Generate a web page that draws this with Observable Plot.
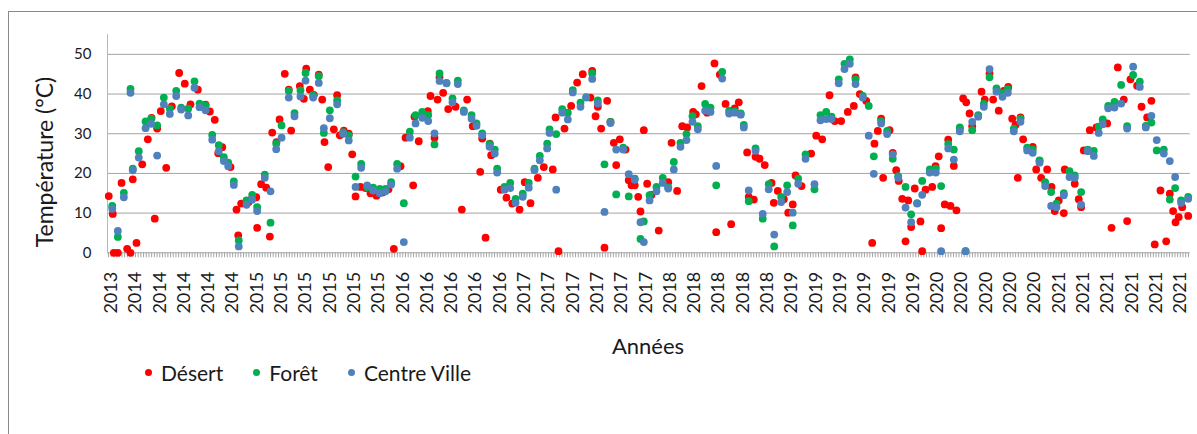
<!DOCTYPE html>
<html>
<head>
<meta charset="utf-8">
<script src="https://cdn.jsdelivr.net/npm/d3@7"></script>
<script src="https://cdn.jsdelivr.net/npm/@observablehq/plot@0.6"></script>
<style>
  body { margin: 0; background: #fff; font-family: Lato, "Open Sans", sans-serif; color: #1a1a1a; }
  #wrap { position: relative; width: 1197px; height: 434px; overflow: hidden; background: #fff; }
  #chart { position: absolute; left: 0; top: 0; }
  #frame { position: absolute; left: 8px; top: 11px; width: 1220px; height: 460px; border: 1.5px solid #8a8a8a; box-sizing: border-box; pointer-events: none; }
  #ytitle { position: absolute; left: 44px; top: 162px; transform: translate(-50%, -50%) rotate(-90deg); white-space: nowrap; font-size: 23px; }
  #xtitle { position: absolute; left: 648px; top: 345px; transform: translate(-50%, -50%); white-space: nowrap; font-size: 22px; }
  #legend { position: absolute; left: 145px; top: 359px; height: 26px; display: flex; align-items: center; font-size: 21px; }
  #legend .item { display: flex; align-items: center; margin-right: 30px; }
  #legend .sw { width: 7px; height: 7px; border-radius: 50%; margin-right: 9px; }
</style>
</head>
<body>
<div id="wrap">
  <div id="chart"></div>
  <div id="ytitle">Température (°C)</div>
  <div id="xtitle">Années</div>
  <div id="legend"></div>
  <div id="frame"></div>
</div>
<script>
// ---- Data ----
const seriesNames = ["Désert", "Forêt", "Centre Ville"];
const seriesColors = ["#ff0000", "#00b050", "#4f81bd"];

const tickLabels = ["2013",
  "2014","2014","2014","2014","2014",
  "2015","2015","2015","2015","2015","2015",
  "2016","2016","2016","2016","2016",
  "2017","2017","2017","2017","2017","2017",
  "2018","2018","2018","2018","2018",
  "2019","2019","2019","2019","2019","2019",
  "2020","2020","2020","2020","2020",
  "2021","2021","2021","2021","2021","2021"];
const yTicks = [0, 10, 20, 30, 40, 50];

// shared sampling dates (decimal years) of Forêt and Centre Ville
const datesForetVille = [
  2013.963, 2014.005, 2014.050, 2014.100, 2014.117, 2014.162, 2014.213, 2014.255, 2014.300, 2014.350,
  2014.395, 2014.443, 2014.480, 2014.533, 2014.580, 2014.618, 2014.663, 2014.713, 2014.762, 2014.800,
  2014.833, 2014.875, 2014.912, 2014.970, 2015.013, 2015.050, 2015.107, 2015.150, 2015.193, 2015.233,
  2015.287, 2015.330, 2015.375, 2015.413, 2015.470, 2015.512, 2015.550, 2015.595, 2015.650, 2015.695,
  2015.737, 2015.788, 2015.830, 2015.875, 2015.920, 2015.970, 2016.013, 2016.055, 2016.100, 2016.150,
  2016.195, 2016.238, 2016.288, 2016.333, 2016.380, 2016.418, 2016.470, 2016.515, 2016.555, 2016.600,
  2016.658, 2016.695, 2016.738, 2016.793, 2016.832, 2016.850, 2016.905, 2016.948, 2016.988, 2017.042,
  2017.087, 2017.130, 2017.170, 2017.225, 2017.243, 2017.293, 2017.338, 2017.380, 2017.417, 2017.475,
  2017.518, 2017.563, 2017.605, 2017.655, 2017.700, 2017.743, 2017.795, 2017.837, 2017.882, 2017.925,
  2017.950, 2017.993, 2018.045, 2018.092, 2018.133, 2018.175, 2018.225, 2018.270, 2018.315, 2018.355,
  2018.410, 2018.450, 2018.493, 2018.538, 2018.590, 2018.632, 2018.677, 2018.700, 2018.737, 2018.788,
  2018.842, 2018.887, 2018.928, 2018.980, 2019.025, 2019.067, 2019.108, 2019.163, 2019.230, 2019.275,
  2019.318, 2019.358, 2019.412, 2019.455, 2019.495, 2019.538, 2019.592, 2019.637, 2019.675, 2019.730,
  2019.775, 2019.817, 2019.858, 2019.913, 2019.955, 2020.000, 2020.038, 2020.095, 2020.140, 2020.180,
  2020.233, 2020.275, 2020.320, 2020.363, 2020.413, 2020.458, 2020.500, 2020.543, 2020.595, 2020.640,
  2020.680, 2020.725, 2020.775, 2020.825, 2020.867, 2020.918, 2020.960, 2021.005, 2021.045, 2021.100,
  2021.143, 2021.182, 2021.230, 2021.280, 2021.325, 2021.362, 2021.392, 2021.433, 2021.480, 2021.530,
  2021.575, 2021.620, 2021.670, 2021.715, 2021.757, 2021.797, 2021.850, 2021.895, 2021.935, 2021.980,
  2022.033];

const centreVille = [
  11.1, 5.5, 14.0, 40.3, 20.8, 24.0, 31.4, 32.5, 24.5, 37.4,
  35.0, 39.5, 36.1, 34.6, 41.6, 36.7, 35.9, 28.5, 25.6, 23.1,
  21.8, 17.1, 1.6, 12.1, 13.4, 10.5, 18.9, 15.5, 26.1, 29.0,
  39.1, 34.4, 39.4, 43.4, 39.1, 42.8, 31.4, 33.9, 37.4, 30.0,
  28.3, 16.6, 21.4, 17.0, 15.7, 15.0, 15.5, 17.2, 21.2, 2.7,
  29.0, 32.6, 34.0, 33.2, 30.1, 43.3, 42.7, 37.9, 42.5, 35.5,
  33.8, 32.0, 29.6, 26.7, 25.0, 20.2, 15.9, 16.3, 12.6, 14.1,
  16.4, 20.8, 23.3, 26.3, 30.2, 15.9, 35.3, 33.6, 40.4, 36.8,
  39.1, 43.8, 37.6, 10.3, 32.7, 26.0, 26.0, 19.8, 18.4, 7.7,
  2.7, 13.2, 15.5, 17.6, 16.2, 21.0, 26.7, 28.4, 33.0, 31.1,
  35.8, 35.5, 21.9, 43.9, 35.1, 35.3, 34.8, 31.6, 15.7, 25.7,
  9.8, 16.0, 4.6, 12.8, 15.3, 10.1, 17.4, 23.7, 17.3, 33.4,
  33.7, 33.7, 42.7, 46.3, 47.6, 42.5, 39.1, 29.5, 19.9, 32.6,
  29.9, 24.8, 18.9, 11.4, 7.7, 12.4, 14.6, 20.2, 20.2, 0.4,
  26.3, 23.5, 30.6, 0.4, 33.0, 34.3, 36.8, 46.3, 40.6, 39.3,
  40.3, 30.6, 33.0, 25.8, 25.2, 22.7, 16.8, 11.8, 11.5, 14.5,
  19.1, 18.9, 12.1, 25.6, 24.4, 30.2, 32.4, 36.4, 36.6, 37.6,
  31.3, 46.9, 41.8, 31.6, 34.5, 28.4, 25.0, 23.1, 19.1, 12.6,
  13.6];

const foret = [
  11.8, 4.0, 15.1, 41.3, 21.2, 25.6, 33.1, 33.8, 32.1, 39.1,
  36.3, 40.8, 36.6, 36.3, 43.2, 37.6, 37.1, 29.7, 27.1, 24.1,
  22.7, 18.0, 3.1, 13.2, 14.6, 11.5, 19.7, 7.6, 27.5, 32.1,
  40.8, 35.2, 40.9, 45.3, 39.7, 44.5, 30.2, 35.9, 38.4, 30.4,
  29.6, 19.2, 22.4, 16.5, 16.4, 16.1, 16.1, 17.8, 22.4, 12.5,
  30.5, 34.7, 35.5, 34.7, 27.3, 45.2, 42.8, 38.9, 43.4, 35.9,
  34.7, 32.6, 30.1, 27.4, 26.0, 21.2, 16.6, 17.6, 13.6, 14.9,
  17.6, 21.2, 24.4, 27.5, 31.1, 29.9, 36.2, 35.3, 41.0, 37.8,
  39.2, 45.2, 38.4, 22.3, 33.0, 14.7, 26.5, 14.2, 18.7, 3.5,
  7.9, 14.5, 16.6, 18.9, 16.5, 22.9, 27.7, 29.9, 34.4, 31.9,
  37.5, 36.6, 17.0, 45.6, 35.8, 35.6, 35.1, 32.2, 13.0, 26.3,
  8.6, 17.3, 1.6, 14.1, 17.0, 6.9, 18.7, 24.8, 16.0, 34.7,
  35.5, 34.3, 43.7, 47.6, 48.7, 43.7, 39.5, 37.0, 24.3, 33.2,
  30.7, 23.7, 19.3, 16.6, 9.7, 12.5, 18.1, 21.0, 21.2, 16.8,
  27.4, 26.0, 31.6, 0.4, 30.9, 34.7, 37.5, 44.2, 41.4, 40.2,
  41.2, 31.3, 33.8, 26.5, 26.0, 23.3, 17.8, 15.3, 12.4, 15.0,
  20.6, 19.5, 15.3, 26.0, 25.7, 31.8, 33.6, 37.0, 38.0, 42.3,
  31.9, 44.8, 43.1, 32.0, 32.8, 25.8, 26.0, 13.4, 16.3, 13.2,
  14.1];

const datesDesert = [
  2013.937, 2013.967, 2013.975, 2014.005, 2014.033, 2014.075, 2014.100, 2014.117, 2014.145, 2014.188,
  2014.230, 2014.258, 2014.282, 2014.300, 2014.327, 2014.368, 2014.410, 2014.465, 2014.507, 2014.550,
  2014.605, 2014.663, 2014.695, 2014.732, 2014.758, 2014.788, 2014.850, 2014.895, 2014.908, 2014.930,
  2014.985, 2015.008, 2015.043, 2015.050, 2015.080, 2015.118, 2015.145, 2015.163, 2015.195, 2015.218,
  2015.257, 2015.287, 2015.305, 2015.370, 2015.400, 2015.418, 2015.445, 2015.475, 2015.512, 2015.538,
  2015.555, 2015.583, 2015.625, 2015.650, 2015.670, 2015.700, 2015.737, 2015.763, 2015.788, 2015.825,
  2015.863, 2015.900, 2015.945, 2015.990, 2016.035, 2016.075, 2016.125, 2016.163, 2016.220, 2016.230,
  2016.262, 2016.330, 2016.350, 2016.380, 2016.403, 2016.418, 2016.445, 2016.483, 2016.538, 2016.585,
  2016.625, 2016.667, 2016.723, 2016.738, 2016.763, 2016.795, 2016.805, 2016.877, 2016.920, 2016.963,
  2017.018, 2017.057, 2017.100, 2017.155, 2017.200, 2017.267, 2017.288, 2017.310, 2017.355, 2017.405,
  2017.450, 2017.492, 2017.550, 2017.563, 2017.588, 2017.605, 2017.630, 2017.655, 2017.675, 2017.700,
  2017.725, 2017.743, 2017.770, 2017.813, 2017.837, 2017.858, 2017.882, 2017.908, 2017.925, 2017.950,
  2017.975, 2018.008, 2018.062, 2018.133, 2018.158, 2018.200, 2018.238, 2018.275, 2018.320, 2018.340,
  2018.383, 2018.425, 2018.480, 2018.493, 2018.520, 2018.563, 2018.605, 2018.632, 2018.662, 2018.725,
  2018.737, 2018.775, 2018.788, 2018.818, 2018.857, 2018.908, 2018.925, 2018.955, 2019.000, 2019.033,
  2019.067, 2019.088, 2019.133, 2019.205, 2019.243, 2019.288, 2019.343, 2019.382, 2019.430, 2019.480,
  2019.525, 2019.538, 2019.570, 2019.618, 2019.663, 2019.680, 2019.705, 2019.730, 2019.745, 2019.793,
  2019.817, 2019.843, 2019.862, 2019.888, 2019.913, 2019.933, 2019.955, 2019.982, 2020.025, 2020.038,
  2020.063, 2020.113, 2020.138, 2020.162, 2020.180, 2020.207, 2020.233, 2020.250, 2020.275, 2020.295,
  2020.320, 2020.345, 2020.368, 2020.393, 2020.413, 2020.483, 2020.507, 2020.543, 2020.570, 2020.612,
  2020.650, 2020.683, 2020.713, 2020.738, 2020.755, 2020.775, 2020.795, 2020.867, 2020.893, 2020.918,
  2020.930, 2020.975, 2021.008, 2021.032, 2021.062, 2021.100, 2021.107, 2021.182, 2021.212, 2021.230,
  2021.250, 2021.295, 2021.345, 2021.425, 2021.458, 2021.505, 2021.550, 2021.575, 2021.600, 2021.650,
  2021.683, 2021.725, 2021.757, 2021.782, 2021.825, 2021.868, 2021.895, 2021.920, 2021.938, 2021.962,
  2021.988, 2022.033];

const desert = [
  14.3, 9.8, 0, 0, 17.6, 1.0, 0, 18.5, 2.5, 22.3,
  28.6, 34.0, 8.6, 31.3, 35.7, 21.4, 36.9, 45.3, 42.6, 37.4,
  41.1, 37.3, 35.6, 33.5, 25.1, 26.6, 21.6, 10.9, 4.4, 12.4,
  12.8, 13.5, 14.0, 6.3, 17.3, 16.4, 4.1, 30.3, 27.9, 33.6,
  45.1, 41.1, 30.8, 42.0, 38.8, 46.4, 41.1, 39.8, 44.9, 38.6,
  27.9, 21.6, 31.1, 39.7, 29.6, 30.8, 30.0, 24.8, 14.2, 16.6,
  16.3, 15.0, 14.4, 15.2, 16.0, 1.0, 21.8, 29.0, 17.0, 34.3,
  28.1, 35.7, 39.5, 29.0, 38.6, 44.2, 40.3, 36.2, 36.8, 10.9,
  38.6, 31.9, 20.4, 28.8, 3.8, 27.5, 24.6, 15.9, 13.9, 12.4,
  10.9, 17.8, 12.5, 18.9, 21.6, 21.0, 34.1, 0.4, 31.3, 37.0,
  42.9, 45.0, 39.1, 45.8, 34.4, 36.8, 31.3, 1.3, 38.3, 33.0,
  27.7, 22.1, 28.6, 26.0, 18.3, 17.0, 17.0, 14.1, 10.4, 30.9,
  17.4, 14.6, 5.6, 17.8, 27.7, 15.6, 31.9, 31.6, 35.5, 34.9,
  42.0, 35.3, 47.7, 5.2, 44.9, 37.5, 7.2, 36.4, 37.9, 25.3,
  14.1, 13.4, 24.2, 23.7, 22.1, 17.6, 12.6, 15.6, 13.5, 10.1,
  12.2, 19.5, 16.8, 25.0, 29.5, 28.6, 39.7, 33.2, 33.2, 35.5,
  37.0, 44.2, 40.0, 38.3, 2.5, 27.5, 30.7, 33.8, 18.9, 30.9,
  25.2, 20.8, 18.1, 13.6, 2.9, 13.2, 6.5, 16.2, 7.9, 0.4,
  15.9, 16.6, 21.8, 24.3, 6.2, 12.2, 28.5, 11.8, 21.9, 10.7,
  31.3, 38.9, 37.9, 35.1, 31.9, 40.6, 38.6, 45.2, 38.6, 35.8,
  40.8, 41.8, 33.8, 32.2, 18.9, 34.1, 28.6, 26.7, 21.0, 23.1,
  18.9, 21.0, 16.6, 10.5, 13.2, 10.0, 21.0, 17.4, 13.5, 11.5,
  25.8, 30.9, 31.6, 32.6, 6.3, 46.7, 38.6, 8.0, 43.7, 42.1,
  36.8, 34.1, 38.3, 2.1, 15.7, 2.9, 14.9, 10.5, 7.7, 9.0,
  11.5, 9.3];

// ---- Build tables ----
const toRows = (dates, vals) => d3.range(Math.min(dates.length, vals.length)).map(i => ({t: dates[i], v: vals[i]}));
const desertRows = toRows(datesDesert, desert);
const foretRows = toRows(datesForetVille, foret);
const villeRows = toRows(datesForetVille, centreVille);

// x axis: category-like date axis, a year label every 2/11 year, 9 minor ticks per label
const X0 = 2013.9275, X1 = 2022.048;
const T0 = 2013.955, STEP = 0.18225;
const labelPos = tickLabels.map((_, i) => T0 + i * STEP);
const minorPos = d3.range(-1, tickLabels.length * 9 + 4).map(k => T0 + k * STEP / 9).filter(t => t >= X0 && t <= X1);

const grid = "#a3a3a3";
const R = 3.9;
const chart = Plot.plot({
  width: 1197,
  height: 330,
  marginLeft: 107,
  marginRight: 7.3,
  marginTop: 34,
  marginBottom: 77.7,
  style: {fontFamily: "Lato, 'Open Sans', sans-serif", color: "#1a1a1a", background: "transparent", overflow: "visible"},
  x: {domain: [X0, X1]},
  y: {domain: [0, 55]},
  marks: [
    Plot.gridY(yTicks.filter(d => d > 0), {stroke: grid, strokeOpacity: 1}),
    Plot.ruleY([0], {stroke: grid}),
    Plot.ruleX([X0], {stroke: "#b8b8b8"}),
    Plot.axisX(minorPos, {tickSize: 5, tickFormat: () => "", stroke: grid, label: null}),
    Plot.axisX(labelPos, {tickSize: 0, tickPadding: 19, tickRotate: -90, fontSize: 18, label: null,
      tickFormat: d => tickLabels[Math.round((d - T0) / STEP)]}),
    Plot.axisY(yTicks, {tickSize: 0, tickPadding: 16, fontSize: 15, label: null}),
    Plot.dot(desertRows, {x: "t", y: "v", r: R, fill: seriesColors[0]}),
    Plot.dot(foretRows, {x: "t", y: "v", r: R, fill: seriesColors[1]}),
    Plot.dot(villeRows, {x: "t", y: "v", r: R, fill: seriesColors[2]})
  ]
});
document.getElementById("chart").append(chart);

// legend
const legend = document.getElementById("legend");
seriesNames.forEach((name, i) => {
  const item = document.createElement("div");
  item.className = "item";
  const sw = document.createElement("span");
  sw.className = "sw";
  sw.style.background = seriesColors[i];
  const label = document.createElement("span");
  label.textContent = name;
  item.append(sw, label);
  legend.append(item);
});
</script>
</body>
</html>
